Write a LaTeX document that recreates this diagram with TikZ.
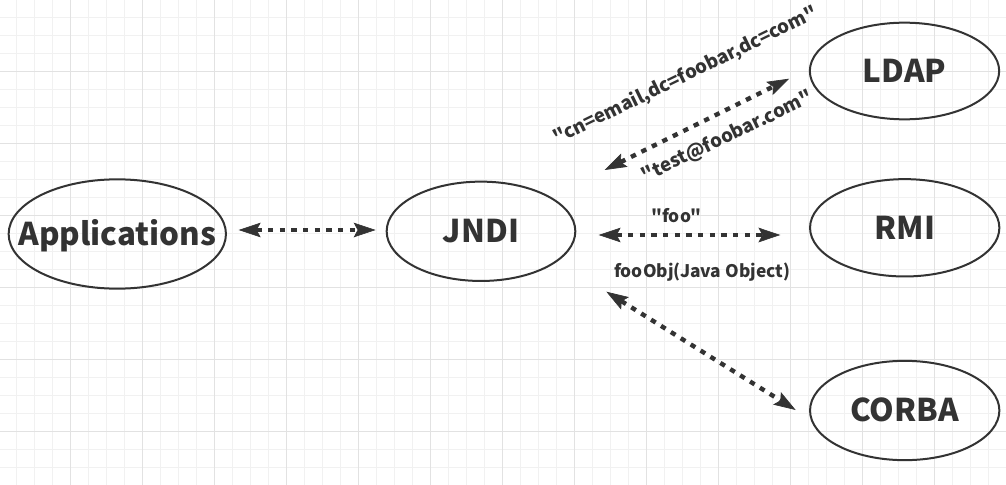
\documentclass[tikz,border=0pt]{standalone}
\usepackage{fontspec}
\newfontfamily\diagfont{Noto Sans CJK SC}
\usetikzlibrary{arrows.meta,shapes.geometric}
\definecolor{inkgray}{HTML}{333333}
\definecolor{gridminor}{HTML}{F1F1F1}
\definecolor{gridmajor}{HTML}{E2E2E2}
\newcommand{\nolabelwidth}[1]{\makebox[0pt]{#1}}
\tikzset{every picture/.style={line width=0.75pt}}
\tikzset{
  proto/.style={draw=inkgray, line width=1.5pt, ellipse, inner sep=0pt, text=inkgray,
    font=\diagfont\bfseries\fontsize{23.5}{28}\selectfont, text height=17pt, text depth=0pt},
  link/.style={draw=inkgray, line width=3.3pt, dash pattern=on 4pt off 4.75pt,
    {Stealth[length=16.5pt,width=11pt,inset=3pt,line width=0.5pt]}-{Stealth[length=16.5pt,width=11pt,inset=3pt,line width=0.5pt]}},
  tag/.style={text=inkgray, inner sep=0.75pt, font=\diagfont\bfseries\fontsize{13}{16}\selectfont},
  bigtag/.style={tag, font=\diagfont\bfseries\fontsize{14}{17}\selectfont},
}

\begin{document}
\begin{tikzpicture}[x=0.75pt,y=0.75pt,yscale=-1,xscale=1]
    \useasboundingbox (0,0) rectangle (1006,485);
    \fill[white] (0,0) rectangle (1006,485);

    %Grid
    \foreach \x in {16.7,34.7,...,1006} \draw[gridminor] (\x,0) -- (\x,485);
    \foreach \y in {17.7,35.7,...,485} \draw[gridminor] (0,\y) -- (1006,\y);
    \foreach \x in {70.7,142.7,...,1006} \draw[gridmajor] (\x,0) -- (\x,485);
    \foreach \y in {71.7,143.7,...,485} \draw[gridmajor] (0,\y) -- (1006,\y);

    %Shape: Ellipse
    \node[proto, minimum width=163pt, minimum height=82pt] (app) at (117.3,234) {\nolabelwidth{Applications}};
    %Shape: Ellipse
    \node[proto, minimum width=141.5pt, minimum height=74.5pt] (jndi) at (481,231.3) {\nolabelwidth{JNDI}};
    %Shape: Ellipse
    \node[proto, minimum width=142pt, minimum height=72.5pt] (ldap) at (904.5,71) {\nolabelwidth{LDAP}};
    %Shape: Ellipse
    \node[proto, minimum width=142pt, minimum height=73pt] (rmi) at (904.7,227.8) {\nolabelwidth{RMI}};
    %Shape: Ellipse
    \node[proto, minimum width=142pt, minimum height=74.5pt] (corba) at (904.7,410.5) {\nolabelwidth{CORBA}};

    %Straight Lines
    \draw[link] ([shift={(11.7,-4)}]app.east) -- ([shift={(-10,-1.3)}]jndi.west);
    %Straight Lines
    \draw[link] ([shift={(22.3,3.7)}]jndi.east) -- ([shift={(-28.6,7.2)}]rmi.west);
    %Straight Lines
    \draw[link] ([shift={(28.3,-61.3)}]jndi.east) -- ([shift={(-19.7,7.7)}]ldap.west);
    %Straight Lines
    \draw[link] ([shift={(30,60.4)}]jndi.east) -- ([shift={(-13.35,-0.5)}]corba.west);

    % Text Node
    \node[tag, anchor=base] (lblfoo) at (676.5,222.7) {"foo"};
    % Text Node
    \node[tag, anchor=base] (lblobj) at (702.2,277.3) {fooObj(Java Object)};
    % Text Node
    \node[bigtag, anchor=base, rotate=26] (lblcn) at (688,81) {"cn=email,dc=foobar,dc=com"};
    % Text Node
    \node[bigtag, anchor=base, rotate=25.5] (lbltest) at (730,142) {"test@foobar.com"};

\end{tikzpicture}
\end{document}
